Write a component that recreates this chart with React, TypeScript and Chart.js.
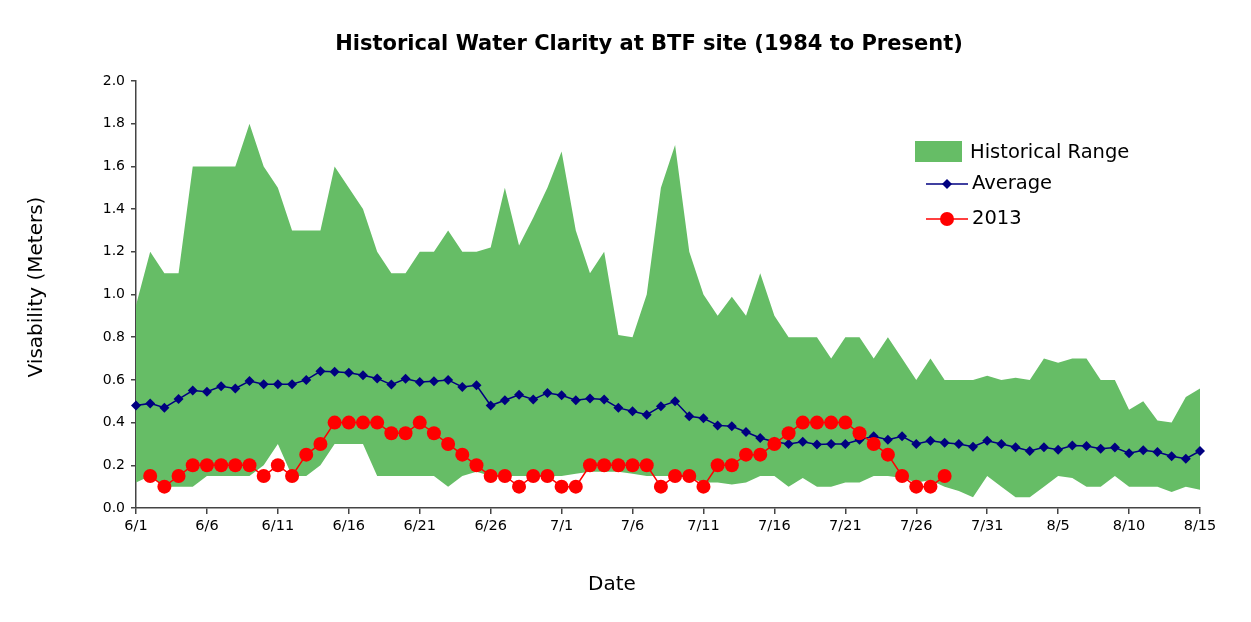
import React, { useEffect, useRef } from "react";
import { Chart, registerables } from "chart.js";

Chart.register(...registerables);

const TITLE = "Historical Water Clarity at BTF site (1984 to Present)";
const Y_TITLE = "Visability (Meters)";
const X_TITLE = "Date";

const dates = [
  "6/1", "6/2", "6/3", "6/4", "6/5", "6/6", "6/7", "6/8", "6/9", "6/10",
  "6/11", "6/12", "6/13", "6/14", "6/15", "6/16", "6/17", "6/18", "6/19", "6/20",
  "6/21", "6/22", "6/23", "6/24", "6/25", "6/26", "6/27", "6/28", "6/29", "6/30",
  "7/1", "7/2", "7/3", "7/4", "7/5", "7/6", "7/7", "7/8", "7/9", "7/10",
  "7/11", "7/12", "7/13", "7/14", "7/15", "7/16", "7/17", "7/18", "7/19", "7/20",
  "7/21", "7/22", "7/23", "7/24", "7/25", "7/26", "7/27", "7/28", "7/29", "7/30",
  "7/31", "8/1", "8/2", "8/3", "8/4", "8/5", "8/6", "8/7", "8/8", "8/9",
  "8/10", "8/11", "8/12", "8/13", "8/14", "8/15",
];

const rangeHigh = [
  0.95, 1.2, 1.1, 1.1, 1.6, 1.6, 1.6, 1.6, 1.8, 1.6,
  1.5, 1.3, 1.3, 1.3, 1.6, 1.5, 1.4, 1.2, 1.1, 1.1,
  1.2, 1.2, 1.3, 1.2, 1.2, 1.22, 1.5, 1.23, 1.36, 1.5,
  1.67, 1.3, 1.1, 1.2, 0.81, 0.8, 1.0, 1.5, 1.7, 1.2,
  1.0, 0.9, 0.99, 0.9, 1.1, 0.9, 0.8, 0.8, 0.8, 0.7,
  0.8, 0.8, 0.7, 0.8, 0.7, 0.6, 0.7, 0.6, 0.6, 0.6,
  0.62, 0.6, 0.61, 0.6, 0.7, 0.68, 0.7, 0.7, 0.6, 0.6,
  0.46, 0.5, 0.41, 0.4, 0.52, 0.56,
];

const rangeLow = [
  0.12, 0.15, 0.1, 0.1, 0.1, 0.15, 0.15, 0.15, 0.15, 0.2,
  0.3, 0.15, 0.15, 0.2, 0.3, 0.3, 0.3, 0.15, 0.15, 0.15,
  0.15, 0.15, 0.1, 0.15, 0.17, 0.15, 0.15, 0.15, 0.15, 0.15,
  0.15, 0.16, 0.17, 0.17, 0.17, 0.16, 0.15, 0.15, 0.15, 0.14,
  0.12, 0.12, 0.11, 0.12, 0.15, 0.15, 0.1, 0.14, 0.1, 0.1,
  0.12, 0.12, 0.15, 0.15, 0.14, 0.12, 0.13, 0.1, 0.08, 0.05,
  0.15, 0.1, 0.05, 0.05, 0.1, 0.15, 0.14, 0.1, 0.1, 0.15,
  0.1, 0.1, 0.1, 0.075, 0.1, 0.085,
];

const average = [
  0.48, 0.49, 0.47, 0.51, 0.55, 0.545, 0.57, 0.56, 0.595, 0.58,
  0.58, 0.58, 0.6, 0.64, 0.638, 0.633, 0.622, 0.607, 0.578, 0.605,
  0.59, 0.594, 0.6, 0.567, 0.575, 0.48, 0.505, 0.53, 0.508, 0.539,
  0.528, 0.505, 0.513, 0.508, 0.469, 0.453, 0.437, 0.476, 0.5, 0.43,
  0.42, 0.387, 0.383, 0.356, 0.328, 0.31, 0.3, 0.31, 0.298, 0.3,
  0.3, 0.32, 0.336, 0.32, 0.336, 0.3, 0.315, 0.306, 0.3, 0.287,
  0.315, 0.3, 0.285, 0.267, 0.285, 0.273, 0.293, 0.29, 0.278, 0.283,
  0.257, 0.27, 0.262, 0.242, 0.231, 0.267,
];

const year2013 = [
  null, 0.15, 0.1, 0.15, 0.2, 0.2, 0.2, 0.2, 0.2, 0.15,
  0.2, 0.15, 0.25, 0.3, 0.4, 0.4, 0.4, 0.4, 0.35, 0.35,
  0.4, 0.35, 0.3, 0.25, 0.2, 0.15, 0.15, 0.1, 0.15, 0.15,
  0.1, 0.1, 0.2, 0.2, 0.2, 0.2, 0.2, 0.1, 0.15, 0.15,
  0.1, 0.2, 0.2, 0.25, 0.25, 0.3, 0.35, 0.4, 0.4, 0.4,
  0.4, 0.35, 0.3, 0.25, 0.15, 0.1, 0.1, 0.15, null, null,
  null, null, null, null, null, null, null, null, null, null,
  null, null, null, null, null, null,
];

const GREEN = "#66bd66";
const NAVY = "#000080";
const RED = "#ff0000";
const FONT = '"DejaVu Sans", Verdana, sans-serif';

const overlayPlugin = {
  id: "overlayText",
  afterDraw(chart: any) {
    const { ctx } = chart;
    ctx.save();
    ctx.fillStyle = "#000";
    ctx.textBaseline = "middle";
    // main title
    ctx.textAlign = "center";
    ctx.font = `bold 21px ${FONT}`;
    ctx.fillText(TITLE, 649, 45);
    // x title
    ctx.font = `20px ${FONT}`;
    ctx.fillText(X_TITLE, 612, 585);
    // y title
    ctx.save();
    ctx.translate(37, 287);
    ctx.rotate(-Math.PI / 2);
    ctx.fillText(Y_TITLE, 0, 0);
    ctx.restore();

    // legend
    ctx.textAlign = "left";
    ctx.font = `19.5px ${FONT}`;
    ctx.fillStyle = GREEN;
    ctx.fillRect(915, 141, 47, 21);
    ctx.fillStyle = "#000";
    ctx.fillText("Historical Range", 970, 153);

    ctx.strokeStyle = NAVY;
    ctx.lineWidth = 1.5;
    ctx.beginPath();
    ctx.moveTo(926, 184);
    ctx.lineTo(968, 184);
    ctx.stroke();
    ctx.fillStyle = NAVY;
    ctx.beginPath();
    ctx.moveTo(947, 179);
    ctx.lineTo(952, 184);
    ctx.lineTo(947, 189);
    ctx.lineTo(942, 184);
    ctx.closePath();
    ctx.fill();
    ctx.fillStyle = "#000";
    ctx.fillText("Average", 972, 184);

    ctx.strokeStyle = RED;
    ctx.beginPath();
    ctx.moveTo(926, 219);
    ctx.lineTo(968, 219);
    ctx.stroke();
    ctx.fillStyle = RED;
    ctx.beginPath();
    ctx.arc(947, 219, 7, 0, Math.PI * 2);
    ctx.fill();
    ctx.fillStyle = "#000";
    ctx.fillText("2013", 972, 219);
    ctx.restore();
  },
};

export default function App() {
  const canvasRef = useRef<HTMLCanvasElement | null>(null);

  useEffect(() => {
    const canvas = canvasRef.current;
    if (!canvas) return;
    const chart = new Chart(canvas, {
      type: "line",
      data: {
        labels: dates,
        datasets: [
          {
            label: "2013",
            data: year2013,
            borderColor: RED,
            backgroundColor: RED,
            borderWidth: 1.5,
            pointStyle: "circle",
            pointRadius: 7,
            pointBorderWidth: 0,
            pointBackgroundColor: RED,
            spanGaps: false,
            fill: false,
            order: 0,
          },
          {
            label: "Average",
            data: average,
            borderColor: NAVY,
            backgroundColor: NAVY,
            borderWidth: 1.5,
            pointStyle: "rectRot",
            pointRadius: 5,
            pointBorderWidth: 0,
            pointBackgroundColor: NAVY,
            fill: false,
            order: 1,
          },
          {
            label: "Historical Range",
            data: rangeHigh,
            borderWidth: 0,
            borderColor: "rgba(0,0,0,0)",
            backgroundColor: GREEN,
            pointRadius: 0,
            fill: "+1",
            order: 2,
          },
          {
            label: "Historical Low",
            data: rangeLow,
            borderWidth: 0,
            borderColor: "rgba(0,0,0,0)",
            backgroundColor: "rgba(0,0,0,0)",
            pointRadius: 0,
            fill: false,
            order: 3,
          },
        ],
      },
      options: {
        responsive: false,
        animation: false,
        layout: { padding: { left: 0, right: 51, top: 81, bottom: 0 } },
        elements: { line: { tension: 0 } },
        plugins: {
          legend: { display: false },
          title: { display: false },
          tooltip: { enabled: false },
        },
        scales: {
          x: {
            type: "category",
            offset: false,
            afterFit: (scale: any) => {
              scale.height = 114;
            },
            ticks: {
              autoSkip: false,
              maxRotation: 0,
              minRotation: 0,
              color: "#000",
              padding: 4,
              font: { family: FONT, size: 14.5 },
              callback: (_v: any, i: number) => (i % 5 === 0 ? dates[i] : ""),
            },
            grid: {
              drawOnChartArea: false,
              drawTicks: true,
              tickLength: 6,
              lineWidth: 1.5,
              color: (ctx: any) => (ctx.index % 5 === 0 ? "#444" : "rgba(0,0,0,0)"),
            },
            border: { display: true, color: "#444", width: 1.5 },
          },
          y: {
            min: 0,
            max: 2,
            afterFit: (scale: any) => {
              scale.width = 136;
            },
            ticks: {
              stepSize: 0.2,
              color: "#000",
              padding: 6,
              font: { family: FONT, size: 14 },
              callback: (v: any) => Number(v).toFixed(1),
            },
            grid: {
              drawOnChartArea: false,
              drawTicks: true,
              tickLength: 5,
              lineWidth: 1.5,
              color: "#444",
            },
            border: { display: true, color: "#444", width: 1.5 },
          },
        },
      },
      plugins: [overlayPlugin],
    });
    return () => chart.destroy();
  }, []);

  return (
    <div style={{ position: "fixed", left: 0, top: 0, width: 1251, height: 622, background: "#fff" }}>
      <canvas ref={canvasRef} width={1251} height={622} />
    </div>
  );
}
